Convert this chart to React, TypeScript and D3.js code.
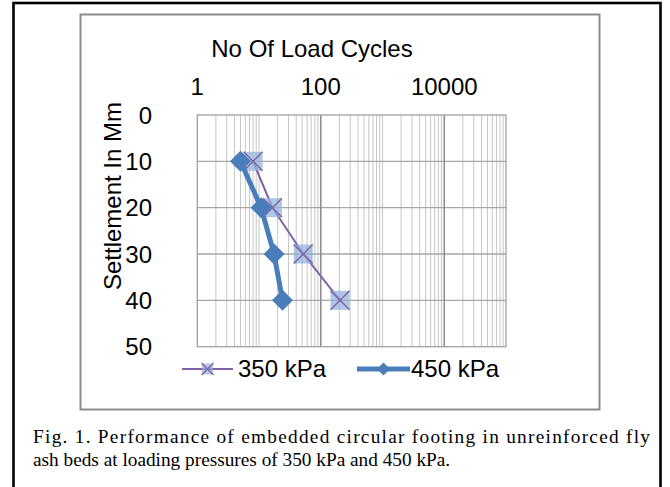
import { useEffect, useRef } from 'react'
import * as d3 from 'd3'

// settlement levels (mm) and the cycles
const settlement = [10, 20, 30, 40]
const cycles350 = [8, 16.5, 52, 205]
const cycles450 = [5, 10.8, 17.5, 24]
const xTickLabels = [1, 100, 10000]
const yTicks = [0, 10, 20, 30, 40, 50]
const captionLines = [
    'Fig. 1. Performance of embedded circular footing in unreinforced fly',
    'ash beds at loading pressures of 350 kPa and 450 kPa.',
]

const App = () => {
    const ref = useRef<SVGSVGElement>(null)

    useEffect(() => {
        const width = 670
        const height = 487
        const svg = d3.select(ref.current)
        svg.selectAll('*').remove()

        const left = 197.3
        const right = 506
        const top = 115
        const bottom = 346.7

        const x = d3.scaleLog().domain([1, 100000]).range([left, right])
        const y = d3.scaleLinear().domain([0, 50]).range([top, bottom])

        svg.append('rect').attr('width', width).attr('height', height).attr('fill', '#fff')

        // outer figure border
        svg.append('rect')
            .attr('x', 13.5)
            .attr('y', 3)
            .attr('width', 647)
            .attr('height', 500)
            .attr('fill', 'none')
            .attr('stroke', '#000')
            .attr('stroke-width', 2.6)

        // chart frame
        svg.append('rect')
            .attr('x', 80.5)
            .attr('y', 14.5)
            .attr('width', 519)
            .attr('height', 395)
            .attr('fill', 'none')
            .attr('stroke', '#8c8c8c')
            .attr('stroke-width', 2)

        const font = 'Arial, "Liberation Sans", sans-serif'

        // minor log grid
        const minor: number[] = []
        for (let k = 0; k < 5; k++) {
            for (let m = 1; m <= 9; m++) {
                const v = m * Math.pow(10, k)
                if (v > 1) minor.push(v)
            }
        }
        svg.append('g')
            .selectAll('line')
            .data(minor.filter((v) => v !== 100 && v !== 10000))
            .join('line')
            .attr('x1', (d) => x(d))
            .attr('x2', (d) => x(d))
            .attr('y1', top)
            .attr('y2', bottom)
            .attr('stroke', '#c6c6c6')
            .attr('stroke-width', 1)

        // horizontal grid
        svg.append('g')
            .selectAll('line')
            .data(yTicks.slice(1, -1))
            .join('line')
            .attr('x1', left)
            .attr('x2', right)
            .attr('y1', (d) => y(d))
            .attr('y2', (d) => y(d))
            .attr('stroke', '#a6a6a6')
            .attr('stroke-width', 1.3)

        // major verticals
        svg.append('g')
            .selectAll('line')
            .data([100, 10000])
            .join('line')
            .attr('x1', (d) => x(d))
            .attr('x2', (d) => x(d))
            .attr('y1', top)
            .attr('y2', bottom)
            .attr('stroke', '#8a8a8a')
            .attr('stroke-width', 1.5)

        svg.append('rect')
            .attr('x', left)
            .attr('y', top)
            .attr('width', right - left)
            .attr('height', bottom - top)
            .attr('fill', 'none')
            .attr('stroke', '#a0a0a0')
            .attr('stroke-width', 1.3)

        // titles and tick labels
        svg.append('text')
            .attr('x', 312)
            .attr('y', 57)
            .attr('text-anchor', 'middle')
            .attr('font-family', font)
            .attr('font-size', 24)
            .text('No Of Load Cycles')

        svg.append('g')
            .selectAll('text')
            .data(xTickLabels)
            .join('text')
            .attr('x', (d) => x(d))
            .attr('y', 95)
            .attr('text-anchor', 'middle')
            .attr('font-family', font)
            .attr('font-size', 24)
            .text((d) => String(d))

        svg.append('g')
            .selectAll('text')
            .data(yTicks)
            .join('text')
            .attr('x', 152)
            .attr('y', (d) => y(d))
            .attr('dy', '0.36em')
            .attr('text-anchor', 'end')
            .attr('font-family', font)
            .attr('font-size', 24)
            .text((d) => String(d))

        svg.append('text')
            .attr('transform', 'translate(121,196) rotate(-90)')
            .attr('text-anchor', 'middle')
            .attr('font-family', font)
            .attr('font-size', 24)
            .text('Settlement In Mm')

        // series
        const purple = '#7f62a8'
        const blue = '#4a7ebb'
        const pts350 = settlement.map((s, i) => [x(cycles350[i]), y(s)] as [number, number])
        const pts450 = settlement.map((s, i) => [x(cycles450[i]), y(s)] as [number, number])

        const drawCross = (g: any, cx: number, cy: number, half: number, sq: number) => {
            g.append('rect')
                .attr('x', cx - sq)
                .attr('y', cy - sq)
                .attr('width', sq * 2)
                .attr('height', sq * 2)
                .attr('fill', '#8fb0dc')
                .attr('fill-opacity', 0.7)
            g.append('path')
                .attr('d', `M${cx - half},${cy - half}L${cx + half},${cy + half}M${cx - half},${cy + half}L${cx + half},${cy - half}`)
                .attr('stroke', purple)
                .attr('stroke-width', 1.4)
                .attr('fill', 'none')
        }
        const drawDiamond = (g: any, cx: number, cy: number, r: number) => {
            g.append('path')
                .attr('d', `M${cx},${cy - r}L${cx + r},${cy}L${cx},${cy + r}L${cx - r},${cy}Z`)
                .attr('fill', blue)
        }

        svg.append('path')
            .attr('d', d3.line()(pts350))
            .attr('fill', 'none')
            .attr('stroke', purple)
            .attr('stroke-width', 2)
        const g350 = svg.append('g')
        pts350.forEach(([px, py]) => drawCross(g350, px, py, 9.5, 9.5))

        svg.append('path')
            .attr('d', d3.line()(pts450))
            .attr('fill', 'none')
            .attr('stroke', blue)
            .attr('stroke-width', 5)
            .attr('stroke-linejoin', 'round')
        const g450 = svg.append('g')
        pts450.forEach(([px, py]) => drawDiamond(g450, px, py, 10.5))

        // legend
        const ly = 369
        svg.append('line')
            .attr('x1', 182).attr('x2', 233).attr('y1', ly).attr('y2', ly)
            .attr('stroke', purple).attr('stroke-width', 2)
        drawCross(svg.append('g'), 207.5, ly, 6, 5.5)
        svg.append('text')
            .attr('x', 238).attr('y', 377)
            .attr('font-family', font).attr('font-size', 24)
            .text('350 kPa')

        svg.append('line')
            .attr('x1', 357).attr('x2', 410).attr('y1', ly).attr('y2', ly)
            .attr('stroke', blue).attr('stroke-width', 5)
        drawDiamond(svg.append('g'), 383.5, ly, 6.5)
        svg.append('text')
            .attr('x', 411).attr('y', 377)
            .attr('font-family', font).attr('font-size', 24)
            .text('450 kPa')

        // caption
        const cap = svg.append('g')
            .attr('font-family', '"Times New Roman", "Liberation Serif", serif')
            .attr('font-size', 19.3)
        cap.append('text')
            .attr('x', 33)
            .attr('y', 443)
            .attr('textLength', 617)
            .attr('lengthAdjust', 'spacing')
            .text(captionLines[0])
        cap.append('text')
            .attr('x', 33)
            .attr('y', 466)
            .text(captionLines[1])
    }, [])

    return (
        <svg
            ref={ref}
            width={670}
            height={487}
            style={{ position: 'absolute', left: 0, top: 0 }}
        />
    )
}

export default App
